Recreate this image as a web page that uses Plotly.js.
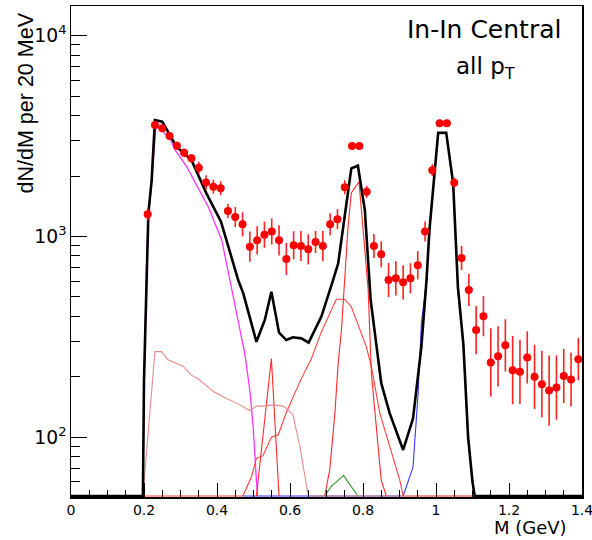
<!DOCTYPE html>
<html>
<head>
<meta charset="utf-8">
<script src="https://cdn.plot.ly/plotly-3.0.1.min.js"></script>
<style>html,body{margin:0;padding:0;background:#fff;}#chart{width:592px;height:540px;}</style>
</head>
<body>
<div id="chart"></div>
<script>
// ---- data points (M in GeV, dN/dM per 20 MeV) ----
const dataM = [0.21,0.23,0.25,0.27,0.29,0.31,0.33,0.35,0.37,0.39,
               0.41,0.43,0.45,0.47,0.49,0.51,0.53,0.55,0.57,0.59,
               0.61,0.63,0.65,0.67,0.69,0.71,0.73,0.75,0.77,0.79,
               0.81,0.83,0.85,0.87,0.89,0.91,0.93,0.95,0.97,0.99,
               1.01,1.03,1.05,1.07,1.09,1.11,1.13,1.15,1.17,1.19,
               1.21,1.23,1.25,1.27,1.29,1.31,1.33,1.35,1.37,1.39];
const dataV = [1290,3590,3460,3170,2830,2610,2450,2200,1860,1770,
               1740,1340,1250,1150,890,957,1020,1060,957,773,
               904,897,863,939,897,1150,1220,1760,2820,2820,
               1670,897,815,607,619,591,619,719,1060,2140,
               3660,3660,1850,782,542,342,401,236,253,287,
               216,212,250,200,184,171,177,202,194,245];
// error half-length read in decades (log10 units)
const errDex = [0.030,0.010,0.010,0.020,0.020,0.022,0.020,0.030,0.035,0.035,
                0.035,0.035,0.050,0.060,0.075,0.070,0.065,0.065,0.075,0.080,
                0.070,0.075,0.075,0.055,0.075,0.055,0.050,0.035,0.015,0.015,
                0.030,0.060,0.065,0.085,0.085,0.085,0.075,0.070,0.050,0.030,
                0.010,0.010,0.025,0.060,0.080,0.120,0.100,0.170,0.150,0.130,
                0.170,0.160,0.130,0.160,0.165,0.175,0.160,0.135,0.135,0.105];

// ---- model curves (0 = empty bin, drawn on the frame floor) ----
const totalM = [0,0.197,0.200,0.207,0.212,0.221,0.230,0.250,0.266,0.289,0.330,0.371,0.411,0.458,0.472,
                0.508,0.531,0.549,0.570,0.590,0.608,0.631,0.651,0.686,0.718,0.732,0.768,0.786,0.805,
                0.821,0.850,0.873,0.910,0.937,0.960,0.974,0.982,1.006,1.028,1.047,1.060,1.075,1.088,
                1.100,1.106,1.4];
const totalV = [0,0,193,736,1306,1910,3800,3730,3325,2800,2404,1641,1185,607,521,
                299,384,531,332,305,315,311,296,399,607,735,2186,2253,1355,
                483,186,132,86.5,124,283,607,1076,3289,3289,1841,560,290,100,
                60,0,0];

const etaM = [0.197,0.200,0.207,0.212,0.221,0.233,0.271,0.285,0.317,0.348,0.376,0.413,0.426,0.435,0.458,0.476,0.490,0.499,0.508,0.511];
const etaV = [0,185,710,1270,1860,3590,3083,2697,2228,1738,1407,961,736,607,370,262,172,113,61,0];

const rhoM = [0.197,0.471,0.495,0.508,0.526,0.549,0.568,0.590,0.631,0.658,0.686,0.727,0.750,0.768,0.809,0.823,0.846,0.873,0.901,0.910,1.106];
const rhoV = [0,0,64,78.6,81,100,103,133,196,245,335,487,487,447,283,225,132,90,61,0,0];

const phiM = [0.471,0.910,0.937,0.951,0.960,0.974,0.982,1.006,1.028,1.047,1.060,1.075,1.088,1.100,1.106];
const phiV = [0,0,71,166,370,600,1060,3250,3250,1820,550,285,98,59,0];

const etapM = [0.695,0.713,0.747,0.786];
const etapV = [0,57,64.4,0];

const spikeM = [0.508,0.549,0.570];
const spikeV = [0,247,0];

const omegaM = [0.695,0.709,0.723,0.732,0.741,0.759,0.768,0.789,0.798,0.814,0.823,0.850,0.864];
const omegaV = [0,69,132,234,342,1119,1650,1875,1208,550,208,61,0];

const dalitzM = [0.197,0.210,0.230,0.248,0.266,0.307,0.330,0.353,0.390,0.426,0.454,0.490,0.508,0.526,0.554,0.582,0.608,0.627,0.650,1.106];
const dalitzV = [0,95,267,267,243,226,204,193,169,156,148,136,143,143,145,143,130,90,0,0];

const xTickVals = [0, 0.2, 0.4, 0.6, 0.8, 1, 1.2, 1.4];
const xTickText = ['0', '0.2', '0.4', '0.6', '0.8', '1', '1.2', '1.4'];

const xTitle = 'M (GeV)';
const yTitle = 'dN/dM per 20 MeV';
const label1 = 'In-In Central';
const label2 = 'all p<sub>T</sub>';

// ---- build ----
const yMinLog = 1.7027, yMaxLog = 4.148;
const FLOOR = 51;
const fl = a => a.map(v => v === 0 ? FLOOR : v);

function curve(xs, ys, color, width) {
  return {x: xs, y: fl(ys), type: 'scatter', mode: 'lines',
          line: {color: color, width: width}, hoverinfo: 'skip', showlegend: false};
}

const errUp = dataV.map((v, i) => v * (Math.pow(10, errDex[i]) - 1));
const errDn = dataV.map((v, i) => v * (1 - Math.pow(10, -errDex[i])));

const traces = [
  curve(etaM, etaV, '#ff33ff', 1.3),
  curve(rhoM, rhoV, '#ff4040', 1.1),
  curve(phiM, phiV, '#3535ff', 1.1),
  curve(etapM, etapV, '#2e9a2e', 1.1),
  curve(spikeM, spikeV, '#ff2a2a', 1.1),
  curve(omegaM, omegaV, '#ff2a2a', 1.1),
  curve(dalitzM, dalitzV, '#e98a8a', 1.1),
  curve(totalM, totalV, '#000000', 2.6),
  {x: dataM, y: dataV, type: 'scatter', mode: 'markers', showlegend: false,
   marker: {color: '#ff0000', size: 8, symbol: 'circle'},
   error_y: {type: 'data', symmetric: false, array: errUp, arrayminus: errDn,
             color: '#ff2020', thickness: 1.6, width: 0},
   error_x: {type: 'constant', value: 0.01, color: '#ff2020', thickness: 1.6, width: 0}}
];

const tickFont = {family: 'DejaVu Sans', size: 14, color: '#000'};

const layout = {
  width: 592, height: 540,
  margin: {l: 71, r: 10, t: 6, b: 43},
  paper_bgcolor: '#fff', plot_bgcolor: '#fff',
  showlegend: false,
  xaxis: {
    type: 'linear', range: [0, 1.4],
    tickmode: 'array', tickvals: xTickVals, ticktext: xTickText,
    ticklabeloverflow: 'allow',
    ticks: 'inside', ticklen: 14, tickwidth: 1, tickcolor: '#000',
    minor: {dtick: 0.05, tick0: 0, ticks: 'inside', ticklen: 7, tickwidth: 1, tickcolor: '#000'},
    showline: true, linecolor: '#000', linewidth: 1.5, mirror: true,
    showgrid: false, zeroline: false,
    tickfont: tickFont
  },
  yaxis: {
    type: 'log', range: [yMinLog, yMaxLog], dtick: 1, exponentformat: 'power',
    ticks: 'inside', ticklen: 16, tickwidth: 1, tickcolor: '#000',
    minor: {dtick: 'D1', ticks: 'inside', ticklen: 9, tickwidth: 1, tickcolor: '#000'},
    showline: true, linecolor: '#000', linewidth: 1.5, mirror: true,
    showgrid: false, zeroline: false,
    tickfont: {family: 'DejaVu Sans', size: 15, color: '#000'}
  },
  annotations: [
    {text: yTitle, xref: 'paper', yref: 'paper', x: -0.088, y: 0.99,
     xanchor: 'center', yanchor: 'top', textangle: -90, showarrow: false,
     font: {family: 'Liberation Sans', size: 21.5, color: '#000'}},
    {text: xTitle, xref: 'paper', yref: 'paper', x: 0.9726, y: -0.0865,
     xanchor: 'right', yanchor: 'bottom', showarrow: false, borderpad: 0,
     font: {family: 'DejaVu Sans', size: 18, color: '#000'}},
    {text: label1, xref: 'paper', yref: 'paper', x: 0.808, y: 0.953,
     xanchor: 'center', yanchor: 'middle', showarrow: false,
     font: {family: 'DejaVu Sans', size: 25, color: '#000'}},
    {text: label2, xref: 'paper', yref: 'paper', x: 0.812, y: 0.873,
     xanchor: 'center', yanchor: 'middle', showarrow: false,
     font: {family: 'DejaVu Sans', size: 23, color: '#000'}}
  ]
};

Plotly.newPlot('chart', traces, layout, {displayModeBar: false, staticPlot: true});
</script>
</body>
</html>
